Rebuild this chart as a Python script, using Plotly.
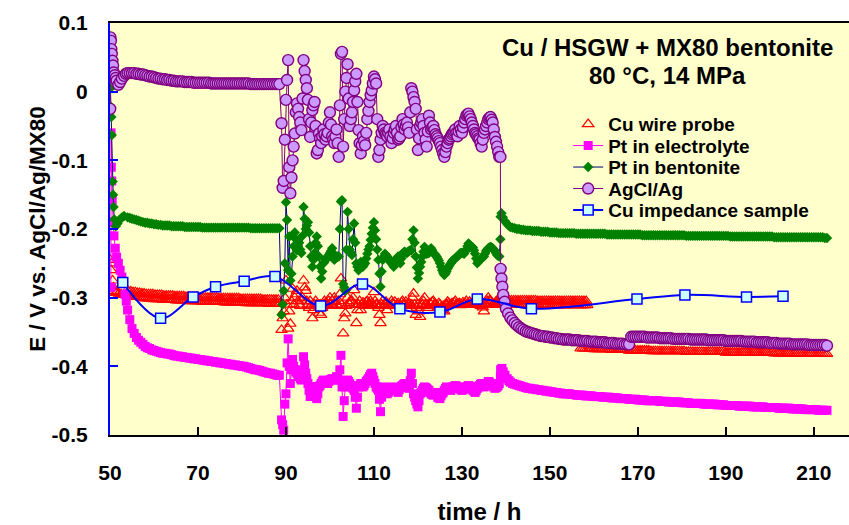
import plotly.graph_objects as go

FONT = "Liberation Sans, Arial, sans-serif"

# ---------------------------------------------------------------- time bases (h)
T_FLAT = [54.0, 54.5, 55.0, 55.5, 56.0, 56.5, 57.0, 57.5, 58.0, 58.5,
          59.0, 59.5, 60.0, 60.5, 61.0, 61.5, 62.0, 62.5, 63.0, 63.5,
          64.0, 64.5, 65.0, 65.5, 66.0, 66.5, 67.0, 67.5, 68.0, 68.5,
          69.0, 69.5, 70.0, 70.5, 71.0, 71.5, 72.0, 72.5, 73.0, 73.5,
          74.0, 74.5, 75.0, 75.5, 76.0, 76.5, 77.0, 77.5, 78.0, 78.5,
          79.0, 79.5, 80.0, 80.5, 81.0, 81.5, 82.0, 82.5, 83.0, 83.5,
          84.0, 84.5, 85.0, 85.5, 86.0, 86.5, 87.0, 87.5, 88.0, 88.5]
T_FLAT_B = [54.25, 54.75, 55.25, 55.75, 56.25, 56.75, 57.25, 57.75, 58.25, 58.75,
            59.25, 59.75, 60.25, 60.75, 61.25, 61.75, 62.25, 62.75, 63.25, 63.75,
            64.25, 64.75, 65.25, 65.75, 66.25, 66.75, 67.25, 67.75, 68.25, 68.75,
            69.25, 69.75, 70.25, 70.75, 71.25, 71.75, 72.25, 72.75, 73.25, 73.75,
            74.25, 74.75, 75.25, 75.75, 76.25, 76.75, 77.25, 77.75, 78.25, 78.75,
            79.25, 79.75, 80.25, 80.75, 81.25, 81.75, 82.25, 82.75, 83.25, 83.75,
            84.25, 84.75, 85.25, 85.75, 86.25, 86.75, 87.25, 87.75, 88.25]
T_NOISY = [89.0, 89.5, 90.0, 90.5, 91.0, 91.5, 92.0, 92.5, 93.0, 93.5,
           94.0, 94.5, 95.0, 95.5, 96.0, 96.5, 97.0, 97.5, 98.0, 98.5,
           99.0, 99.5, 100.0, 100.5, 101.0, 101.5, 102.0, 102.5, 103.0, 103.5,
           104.0, 104.5, 105.0, 105.5, 106.0, 106.5, 107.0, 107.5, 108.0, 108.5,
           109.0, 109.5, 110.0, 110.5, 111.0, 111.5, 112.0, 112.5, 113.0, 113.5,
           114.0, 114.5, 115.0, 115.5, 116.0, 116.5, 117.0, 117.5, 118.0, 118.5,
           119.0, 119.5, 120.0, 120.5, 121.0, 121.5, 122.0, 122.5, 123.0, 123.5,
           124.0, 124.5, 125.0, 125.5, 126.0, 126.5, 127.0, 127.5, 128.0, 128.5,
           129.0, 129.5, 130.0, 130.5, 131.0, 131.5, 132.0, 132.5, 133.0, 133.5,
           134.0, 134.5, 135.0, 135.5, 136.0, 136.5, 137.0, 137.5, 138.0, 138.5]
T_NOISY_B = [89.25, 89.75, 90.25, 90.75, 91.25, 91.75, 92.25, 92.75, 93.25, 93.75,
             94.25, 94.75, 95.25, 95.75, 96.25, 96.75, 97.25, 97.75, 98.25, 98.75,
             99.25, 99.75, 100.25, 100.75, 101.25, 101.75, 102.25, 102.75, 103.25, 103.75,
             104.25, 104.75, 105.25, 105.75, 106.25, 106.75, 107.25, 107.75, 108.25, 108.75,
             109.25, 109.75, 110.25, 110.75, 111.25, 111.75, 112.25, 112.75, 113.25, 113.75,
             114.25, 114.75, 115.25, 115.75, 116.25, 116.75, 117.25, 117.75, 118.25, 118.75,
             119.25, 119.75, 120.25, 120.75, 121.25, 121.75, 122.25, 122.75, 123.25, 123.75,
             124.25, 124.75, 125.25, 125.75, 126.25, 126.75, 127.25, 127.75, 128.25, 128.75,
             129.25, 129.75, 130.25, 130.75, 131.25, 131.75, 132.25, 132.75, 133.25, 133.75,
             134.25, 134.75, 135.25, 135.75, 136.25, 136.75, 137.25, 137.75, 138.25, 138.75]
T_LATE = [141.0, 141.5, 142.0, 142.5, 143.0, 143.5, 144.0, 144.5, 145.0, 145.5,
          146.0, 146.5, 147.0, 147.5, 148.0, 148.5, 149.0, 149.5, 150.0, 150.5,
          151.0, 151.5, 152.0, 152.5, 153.0, 153.5, 154.0, 154.5, 155.0, 155.5,
          156.0, 156.5, 157.0, 157.5, 158.0, 158.5, 159.0, 159.5, 160.0, 160.5,
          161.0, 161.5, 162.0, 162.5, 163.0, 163.5, 164.0, 164.5, 165.0, 165.5,
          166.0, 166.5, 167.0, 167.5, 168.0, 168.5, 169.0, 169.5, 170.0, 170.5,
          171.0, 171.5, 172.0, 172.5, 173.0, 173.5, 174.0, 174.5, 175.0, 175.5,
          176.0, 176.5, 177.0, 177.5, 178.0, 178.5, 179.0, 179.5, 180.0, 180.5,
          181.0, 181.5, 182.0, 182.5, 183.0, 183.5, 184.0, 184.5, 185.0, 185.5,
          186.0, 186.5, 187.0, 187.5, 188.0, 188.5, 189.0, 189.5, 190.0, 190.5,
          191.0, 191.5, 192.0, 192.5, 193.0, 193.5, 194.0, 194.5, 195.0, 195.5,
          196.0, 196.5, 197.0, 197.5, 198.0, 198.5, 199.0, 199.5, 200.0, 200.5,
          201.0, 201.5, 202.0, 202.5, 203.0, 203.5, 204.0, 204.5, 205.0, 205.5,
          206.0, 206.5, 207.0, 207.5, 208.0, 208.5, 209.0, 209.5, 210.0, 210.5,
          211.0, 211.5, 212.0, 212.5, 213.0]

# ---------------------------------------------------------------- Cu wire probe (V)
WIRE_HEAD_T = [50.1, 50.25, 50.4, 50.6, 50.8, 51.0, 51.3, 51.6, 52.0, 52.5, 53.0, 53.5]
WIRE_HEAD_V = [-0.245, -0.260, -0.250, -0.275, -0.285, -0.290, -0.293, -0.292,
               -0.294, -0.295, -0.296, -0.296]
WIRE_FLAT = [-0.297, -0.297, -0.298, -0.298, -0.299, -0.299, -0.300, -0.300, -0.301, -0.301,
             -0.301, -0.301, -0.302, -0.302, -0.302, -0.302, -0.303, -0.303, -0.303, -0.303,
             -0.303, -0.303, -0.304, -0.304, -0.304, -0.304, -0.304, -0.304, -0.305, -0.305,
             -0.305, -0.305, -0.305, -0.305, -0.306, -0.306, -0.306, -0.306, -0.306, -0.306,
             -0.306, -0.306, -0.306, -0.306, -0.307, -0.307, -0.307, -0.307, -0.307, -0.307,
             -0.307, -0.307, -0.307, -0.307, -0.308, -0.308, -0.308, -0.308, -0.308, -0.308,
             -0.308, -0.308, -0.308, -0.308, -0.309, -0.309, -0.309, -0.309, -0.309, -0.309]
WIRE_FLAT_B = [-0.291, -0.291, -0.292, -0.292, -0.293, -0.293, -0.294, -0.294, -0.295, -0.295,
               -0.295, -0.295, -0.296, -0.296, -0.296, -0.296, -0.297, -0.297, -0.297, -0.297,
               -0.297, -0.298, -0.298, -0.298, -0.298, -0.298, -0.299, -0.299, -0.299, -0.299,
               -0.299, -0.299, -0.300, -0.300, -0.300, -0.300, -0.300, -0.300, -0.300, -0.300,
               -0.300, -0.301, -0.301, -0.301, -0.301, -0.301, -0.301, -0.301, -0.301, -0.301,
               -0.301, -0.302, -0.302, -0.302, -0.302, -0.302, -0.302, -0.302, -0.302, -0.302,
               -0.302, -0.303, -0.303, -0.303, -0.303, -0.303, -0.303, -0.303, -0.303]
WIRE_NOISY = [-0.347, -0.320, -0.275, -0.345, -0.338, -0.287, -0.300, -0.290, -0.310, -0.305,
              -0.275, -0.290, -0.310, -0.305, -0.330, -0.310, -0.310, -0.322, -0.325, -0.310,
              -0.308, -0.310, -0.300, -0.305, -0.300, -0.310, -0.305, -0.272, -0.352, -0.323,
              -0.300, -0.310, -0.305, -0.289, -0.337, -0.310, -0.318, -0.307, -0.310, -0.305,
              -0.310, -0.308, -0.292, -0.310, -0.315, -0.337, -0.305, -0.310, -0.318, -0.310,
              -0.305, -0.310, -0.312, -0.308, -0.310, -0.305, -0.310, -0.312, -0.308, -0.310,
              -0.294, -0.325, -0.310, -0.328, -0.310, -0.300, -0.310, -0.315, -0.310, -0.305,
              -0.310, -0.315, -0.310, -0.318, -0.320, -0.310, -0.308, -0.310, -0.310, -0.305,
              -0.310, -0.308, -0.310, -0.310, -0.305, -0.310, -0.308, -0.310, -0.310, -0.305,
              -0.310, -0.310, -0.320, -0.310, -0.300, -0.305, -0.310, -0.310, -0.310, -0.300]
WIRE_NOISY_B = [-0.330, -0.300, -0.310, -0.320, -0.305, -0.310, -0.295, -0.305, -0.312, -0.300,
                -0.285, -0.305, -0.315, -0.312, -0.318, -0.305, -0.312, -0.310, -0.315, -0.305,
                -0.312, -0.305, -0.310, -0.312, -0.306, -0.312, -0.295, -0.310, -0.330, -0.312,
                -0.308, -0.305, -0.300, -0.310, -0.318, -0.305, -0.310, -0.312, -0.306, -0.310,
                -0.305, -0.312, -0.305, -0.310, -0.325, -0.310, -0.312, -0.306, -0.310, -0.312,
                -0.308, -0.306, -0.310, -0.312, -0.307, -0.310, -0.306, -0.310, -0.312, -0.300,
                -0.310, -0.315, -0.320, -0.312, -0.305, -0.310, -0.312, -0.308, -0.306, -0.310,
                -0.312, -0.308, -0.314, -0.312, -0.310, -0.306, -0.310, -0.308, -0.307, -0.310,
                -0.309, -0.311, -0.307, -0.308, -0.310, -0.306, -0.310, -0.308, -0.306, -0.310,
                -0.312, -0.314, -0.310, -0.305, -0.304, -0.308, -0.310, -0.306, -0.305, -0.304]
WIRE_MID_T = [139.0, 139.5, 140.0, 140.5, 141.0, 141.5, 142.0, 142.5, 143.0, 143.5,
              144.0, 144.5, 145.0, 145.5, 146.0, 146.5, 147.0, 147.5, 148.0, 148.5,
              149.0, 149.5, 150.0, 150.5, 151.0, 151.5, 152.0, 152.5, 153.0, 153.5,
              154.0, 154.5, 155.0, 155.5, 156.0, 156.5, 157.0, 157.5, 158.0, 158.5]
WIRE_MID_V = [-0.305, -0.308, -0.309, -0.309, -0.309, -0.309, -0.310, -0.310, -0.310, -0.310,
              -0.310, -0.310, -0.310, -0.310, -0.310, -0.310, -0.310, -0.310, -0.310, -0.310,
              -0.310, -0.310, -0.311, -0.311, -0.311, -0.311, -0.311, -0.311, -0.311, -0.311,
              -0.311, -0.311, -0.311, -0.311, -0.311, -0.311, -0.311, -0.311, -0.311, -0.311]
WIRE_MID_B_T = [139.25, 139.75, 140.25, 140.75, 141.25, 141.75, 142.25, 142.75, 143.25, 143.75,
                144.25, 144.75, 145.25, 145.75, 146.25, 146.75, 147.25, 147.75, 148.25, 148.75,
                149.25, 149.75, 150.25, 150.75, 151.25, 151.75, 152.25, 152.75, 153.25, 153.75,
                154.25, 154.75, 155.25, 155.75, 156.25, 156.75, 157.25, 157.75, 158.25]
WIRE_MID_B_V = [-0.302, -0.303, -0.303, -0.304, -0.304, -0.304, -0.304, -0.304, -0.304, -0.304,
                -0.304, -0.304, -0.304, -0.304, -0.304, -0.304, -0.305, -0.305, -0.305, -0.305,
                -0.305, -0.305, -0.305, -0.305, -0.305, -0.305, -0.305, -0.305, -0.305, -0.305,
                -0.305, -0.305, -0.305, -0.305, -0.305, -0.305, -0.305, -0.305, -0.305]
WIRE_LOW_T = T_LATE[32:]          # 157.0 h onwards
WIRE_LOW_V = [-0.374, -0.374, -0.374, -0.374, -0.374, -0.374, -0.375, -0.375, -0.375, -0.375,
              -0.375, -0.375, -0.375, -0.375, -0.376, -0.376, -0.376, -0.376, -0.376, -0.376,
              -0.376, -0.376, -0.377, -0.377, -0.377, -0.377, -0.377, -0.377, -0.377, -0.377,
              -0.377, -0.377, -0.378, -0.378, -0.378, -0.378, -0.378, -0.378, -0.378, -0.378,
              -0.378, -0.378, -0.378, -0.378, -0.378, -0.378, -0.378, -0.378, -0.379, -0.379,
              -0.379, -0.379, -0.379, -0.379, -0.379, -0.379, -0.379, -0.379, -0.379, -0.379,
              -0.379, -0.379, -0.379, -0.379, -0.379, -0.379, -0.380, -0.380, -0.380, -0.380,
              -0.380, -0.380, -0.380, -0.380, -0.380, -0.380, -0.380, -0.380, -0.380, -0.380,
              -0.380, -0.380, -0.380, -0.380, -0.380, -0.380, -0.380, -0.380, -0.381, -0.381,
              -0.381, -0.381, -0.381, -0.381, -0.381, -0.381, -0.381, -0.381, -0.382, -0.382,
              -0.382, -0.382, -0.382, -0.382, -0.382, -0.382, -0.382, -0.382, -0.382, -0.382,
              -0.382, -0.382, -0.382]

# ---------------------------------------------------------------- Pt in electrolyte (V)
ELEC_HEAD_T = [50.2, 50.25, 50.3, 50.4, 50.5, 50.7, 50.9, 51.2, 51.5, 51.9, 52.3,
               52.7, 53.0, 53.4, 53.7]
ELEC_HEAD_V = [-0.285, -0.060, -0.110, -0.130, -0.158, -0.190, -0.210, -0.228, -0.241,
               -0.250, -0.260, -0.270, -0.279, -0.295, -0.305]
ELEC_FLAT = [-0.318, -0.332, -0.345, -0.352, -0.358, -0.362, -0.365, -0.368, -0.371, -0.373,
             -0.374, -0.376, -0.377, -0.378, -0.379, -0.380, -0.381, -0.381, -0.382, -0.382,
             -0.383, -0.384, -0.385, -0.385, -0.386, -0.386, -0.387, -0.387, -0.388, -0.388,
             -0.389, -0.389, -0.390, -0.390, -0.391, -0.391, -0.392, -0.392, -0.393, -0.393,
             -0.394, -0.394, -0.395, -0.395, -0.396, -0.396, -0.397, -0.397, -0.398, -0.398,
             -0.399, -0.399, -0.400, -0.400, -0.401, -0.402, -0.403, -0.404, -0.405, -0.405,
             -0.406, -0.407, -0.408, -0.409, -0.410, -0.410, -0.411, -0.412, -0.413, -0.413]
ELEC_NOISY = [-0.478, -0.493, -0.440, -0.360, -0.425, -0.390, -0.405, -0.410, -0.415, -0.420,
              -0.386, -0.410, -0.425, -0.444, -0.430, -0.430, -0.447, -0.430, -0.425, -0.420,
              -0.422, -0.425, -0.420, -0.418, -0.420, -0.415, -0.420, -0.384, -0.473, -0.430,
              -0.420, -0.425, -0.430, -0.435, -0.461, -0.430, -0.425, -0.430, -0.425, -0.420,
              -0.415, -0.410, -0.420, -0.430, -0.435, -0.466, -0.430, -0.432, -0.440, -0.435,
              -0.430, -0.432, -0.435, -0.438, -0.430, -0.428, -0.425, -0.430, -0.432, -0.410,
              -0.440, -0.450, -0.459, -0.440, -0.435, -0.430, -0.432, -0.435, -0.440, -0.442,
              -0.438, -0.445, -0.447, -0.440, -0.435, -0.430, -0.432, -0.435, -0.430, -0.428,
              -0.430, -0.432, -0.435, -0.433, -0.430, -0.428, -0.430, -0.435, -0.438, -0.432,
              -0.428, -0.425, -0.430, -0.428, -0.422, -0.425, -0.428, -0.432, -0.430, -0.425]
ELEC_NOISY_B = [-0.485, -0.455, -0.395, -0.400, -0.405, -0.400, -0.408, -0.412, -0.418, -0.405,
                -0.398, -0.418, -0.435, -0.438, -0.430, -0.438, -0.440, -0.428, -0.422, -0.421,
                -0.424, -0.422, -0.419, -0.419, -0.418, -0.418, -0.405, -0.430, -0.450, -0.425,
                -0.422, -0.428, -0.432, -0.445, -0.445, -0.428, -0.428, -0.428, -0.422, -0.418,
                -0.412, -0.415, -0.425, -0.432, -0.448, -0.445, -0.431, -0.436, -0.438, -0.432,
                -0.431, -0.434, -0.436, -0.434, -0.429, -0.426, -0.428, -0.431, -0.421, -0.425,
                -0.445, -0.455, -0.450, -0.438, -0.432, -0.431, -0.434, -0.438, -0.441, -0.440,
                -0.441, -0.446, -0.443, -0.438, -0.432, -0.431, -0.434, -0.432, -0.429, -0.429,
                -0.431, -0.434, -0.434, -0.431, -0.429, -0.429, -0.432, -0.436, -0.435, -0.430,
                -0.426, -0.428, -0.429, -0.425, -0.423, -0.427, -0.430, -0.431, -0.428, -0.415]
ELEC_STEP_T = [138.8, 139.1, 139.4, 139.8, 140.3, 140.7]
ELEC_STEP_V = [-0.405, -0.403, -0.408, -0.413, -0.418, -0.421]
ELEC_LATE = [-0.423, -0.425, -0.426, -0.427, -0.428, -0.429, -0.430, -0.431, -0.432, -0.432,
             -0.433, -0.433, -0.434, -0.434, -0.435, -0.435, -0.436, -0.436, -0.437, -0.437,
             -0.438, -0.438, -0.439, -0.439, -0.440, -0.440, -0.440, -0.440, -0.441, -0.441,
             -0.442, -0.442, -0.442, -0.442, -0.443, -0.443, -0.443, -0.443, -0.444, -0.444,
             -0.444, -0.444, -0.445, -0.445, -0.445, -0.445, -0.446, -0.446, -0.446, -0.446,
             -0.447, -0.447, -0.447, -0.447, -0.448, -0.448, -0.448, -0.448, -0.449, -0.449,
             -0.449, -0.449, -0.450, -0.450, -0.450, -0.450, -0.450, -0.450, -0.451, -0.451,
             -0.451, -0.451, -0.452, -0.452, -0.452, -0.452, -0.452, -0.452, -0.453, -0.453,
             -0.453, -0.453, -0.454, -0.454, -0.454, -0.454, -0.454, -0.454, -0.455, -0.455,
             -0.455, -0.455, -0.455, -0.455, -0.456, -0.456, -0.456, -0.456, -0.457, -0.457,
             -0.457, -0.457, -0.457, -0.457, -0.458, -0.458, -0.458, -0.458, -0.458, -0.458,
             -0.459, -0.459, -0.459, -0.459, -0.459, -0.459, -0.460, -0.460, -0.460, -0.460,
             -0.460, -0.460, -0.461, -0.461, -0.461, -0.461, -0.461, -0.461, -0.462, -0.462,
             -0.462, -0.462, -0.462, -0.462, -0.463, -0.463, -0.463, -0.463, -0.463, -0.463,
             -0.464, -0.464, -0.464, -0.464, -0.464]

# ---------------------------------------------------------------- Pt in bentonite (V)
BENT_HEAD_T = [50.1, 50.2, 50.3, 50.4, 50.6, 50.7, 50.8, 51.0, 51.3, 51.7, 52.2, 52.7, 53.2]
BENT_HEAD_V = [0.005, -0.022, -0.037, -0.063, -0.131, -0.150, -0.168, -0.186, -0.196,
               -0.192, -0.187, -0.183, -0.181]
BENT_FLAT = [-0.183, -0.184, -0.185, -0.186, -0.187, -0.188, -0.189, -0.190, -0.191, -0.191,
             -0.192, -0.192, -0.193, -0.193, -0.194, -0.194, -0.195, -0.195, -0.195, -0.195,
             -0.196, -0.196, -0.196, -0.196, -0.196, -0.196, -0.197, -0.197, -0.197, -0.197,
             -0.197, -0.197, -0.197, -0.197, -0.198, -0.198, -0.198, -0.198, -0.198, -0.198,
             -0.198, -0.198, -0.198, -0.198, -0.198, -0.198, -0.198, -0.198, -0.198, -0.198,
             -0.198, -0.198, -0.198, -0.198, -0.198, -0.198, -0.199, -0.199, -0.199, -0.199,
             -0.199, -0.199, -0.199, -0.199, -0.199, -0.199, -0.199, -0.199, -0.199, -0.199]
BENT_NOISY = [-0.325, -0.290, -0.161, -0.260, -0.275, -0.240, -0.205, -0.231, -0.220, -0.235,
              -0.168, -0.200, -0.190, -0.225, -0.255, -0.235, -0.211, -0.240, -0.272, -0.250,
              -0.245, -0.240, -0.235, -0.228, -0.245, -0.240, -0.240, -0.160, -0.280, -0.290,
              -0.175, -0.230, -0.238, -0.192, -0.250, -0.260, -0.248, -0.255, -0.250, -0.236,
              -0.225, -0.207, -0.190, -0.215, -0.245, -0.284, -0.245, -0.236, -0.240, -0.245,
              -0.250, -0.255, -0.245, -0.240, -0.250, -0.236, -0.233, -0.235, -0.232, -0.231,
              -0.202, -0.240, -0.272, -0.255, -0.240, -0.226, -0.236, -0.235, -0.228, -0.235,
              -0.238, -0.243, -0.250, -0.260, -0.267, -0.262, -0.255, -0.250, -0.245, -0.243,
              -0.240, -0.236, -0.235, -0.236, -0.230, -0.221, -0.225, -0.227, -0.236, -0.250,
              -0.245, -0.243, -0.240, -0.232, -0.228, -0.226, -0.228, -0.232, -0.238, -0.240]
BENT_NOISY_B = [-0.310, -0.250, -0.187, -0.211, -0.265, -0.225, -0.215, -0.225, -0.230, -0.210,
                -0.185, -0.195, -0.205, -0.240, -0.245, -0.220, -0.225, -0.255, -0.262, -0.248,
                -0.242, -0.238, -0.232, -0.236, -0.242, -0.240, -0.200, -0.158, -0.285, -0.230,
                -0.200, -0.234, -0.215, -0.220, -0.255, -0.254, -0.252, -0.252, -0.243, -0.230,
                -0.216, -0.198, -0.202, -0.230, -0.265, -0.262, -0.240, -0.238, -0.242, -0.248,
                -0.252, -0.250, -0.242, -0.245, -0.243, -0.234, -0.234, -0.233, -0.231, -0.215,
                -0.220, -0.256, -0.264, -0.248, -0.233, -0.231, -0.235, -0.231, -0.231, -0.236,
                -0.240, -0.246, -0.255, -0.264, -0.265, -0.258, -0.252, -0.247, -0.244, -0.241,
                -0.238, -0.235, -0.235, -0.233, -0.225, -0.223, -0.226, -0.231, -0.243, -0.247,
                -0.244, -0.241, -0.236, -0.230, -0.227, -0.227, -0.230, -0.235, -0.239, -0.215]
BENT_STEP_T = [138.8, 139.0, 139.3, 139.7, 140.2, 140.6]
BENT_STEP_V = [-0.182, -0.177, -0.183, -0.188, -0.192, -0.195]
BENT_LATE = [-0.197, -0.198, -0.199, -0.200, -0.200, -0.201, -0.201, -0.202, -0.202, -0.202,
             -0.203, -0.203, -0.203, -0.203, -0.204, -0.204, -0.204, -0.204, -0.205, -0.205,
             -0.205, -0.205, -0.206, -0.206, -0.206, -0.206, -0.206, -0.206, -0.206, -0.206,
             -0.207, -0.207, -0.207, -0.207, -0.207, -0.207, -0.207, -0.207, -0.207, -0.207,
             -0.207, -0.207, -0.207, -0.207, -0.208, -0.208, -0.208, -0.208, -0.208, -0.208,
             -0.208, -0.208, -0.208, -0.208, -0.208, -0.208, -0.208, -0.208, -0.208, -0.208,
             -0.209, -0.209, -0.209, -0.209, -0.209, -0.209, -0.209, -0.209, -0.209, -0.209,
             -0.209, -0.209, -0.209, -0.209, -0.209, -0.209, -0.209, -0.209, -0.209, -0.209,
             -0.210, -0.210, -0.210, -0.210, -0.210, -0.210, -0.210, -0.210, -0.210, -0.210,
             -0.210, -0.210, -0.210, -0.210, -0.210, -0.210, -0.210, -0.210, -0.210, -0.210,
             -0.211, -0.211, -0.211, -0.211, -0.211, -0.211, -0.211, -0.211, -0.211, -0.211,
             -0.211, -0.211, -0.211, -0.211, -0.211, -0.211, -0.211, -0.211, -0.211, -0.211,
             -0.212, -0.212, -0.212, -0.212, -0.212, -0.212, -0.212, -0.212, -0.212, -0.212,
             -0.212, -0.212, -0.212, -0.212, -0.212, -0.212, -0.212, -0.212, -0.212, -0.212,
             -0.212, -0.212, -0.212, -0.213, -0.213]

# ---------------------------------------------------------------- AgCl/Ag (V)
AGCL_HEAD_T = [50.05, 50.1, 50.2, 50.3, 50.4, 50.55, 50.7, 50.85, 51.1, 51.3, 51.5,
               51.9, 52.3, 52.7, 53.2, 53.6]
AGCL_HEAD_V = [-0.025, 0.079, 0.074, 0.062, 0.055, 0.045, 0.038, 0.028, 0.024, 0.020,
               0.016, 0.010, 0.014, 0.019, 0.023, 0.026]
AGCL_FLAT = [0.027, 0.027, 0.027, 0.027, 0.026, 0.026, 0.025, 0.025, 0.024, 0.023,
             0.022, 0.022, 0.021, 0.020, 0.019, 0.019, 0.018, 0.018, 0.017, 0.017,
             0.016, 0.016, 0.015, 0.015, 0.015, 0.015, 0.014, 0.014, 0.014, 0.014,
             0.013, 0.013, 0.013, 0.013, 0.013, 0.013, 0.013, 0.013, 0.012, 0.012,
             0.012, 0.012, 0.012, 0.012, 0.012, 0.012, 0.012, 0.012, 0.012, 0.012,
             0.012, 0.012, 0.012, 0.012, 0.012, 0.012, 0.011, 0.011, 0.011, 0.011,
             0.011, 0.011, 0.011, 0.011, 0.011, 0.011, 0.011, 0.011, 0.011, 0.011]
AGCL_NOISY = [-0.046, -0.130, -0.012, 0.046, -0.148, -0.100, -0.061, -0.017, -0.037, -0.056,
              0.046, 0.017, -0.012, -0.066, -0.027, -0.015, -0.090, -0.061, -0.075, -0.055,
              -0.070, -0.060, -0.030, -0.065, -0.075, -0.055, -0.095, 0.055, -0.080, 0.000,
              0.040, -0.050, -0.030, 0.002, 0.026, -0.056, -0.090, -0.065, -0.078, -0.040,
              -0.015, 0.002, 0.022, 0.012, -0.095, -0.070, -0.050, -0.060, -0.065, -0.055,
              -0.075, -0.060, -0.050, -0.070, -0.065, -0.040, -0.055, -0.045, -0.060, 0.005,
              -0.008, -0.025, -0.085, -0.050, -0.040, -0.060, -0.080, -0.035, -0.055, -0.050,
              -0.062, -0.068, -0.075, -0.085, -0.095, -0.080, -0.070, -0.065, -0.060, -0.055,
              -0.065, -0.050, -0.060, -0.045, -0.035, -0.032, -0.040, -0.050, -0.060, -0.065,
              -0.070, -0.080, -0.060, -0.050, -0.040, -0.037, -0.045, -0.066, -0.080, -0.095]
AGCL_NOISY_B = [-0.140, -0.070, 0.017, -0.110, -0.125, -0.080, -0.030, -0.025, -0.045, -0.010,
                0.030, 0.005, -0.040, -0.045, -0.020, -0.050, -0.085, -0.068, -0.065, -0.062,
                -0.065, -0.045, -0.048, -0.070, -0.065, -0.075, -0.020, 0.058, -0.040, 0.020,
                -0.010, -0.040, -0.015, 0.015, -0.015, -0.075, -0.078, -0.072, -0.060, -0.028,
                -0.005, 0.012, 0.018, -0.040, -0.085, -0.060, -0.055, -0.062, -0.060, -0.065,
                -0.068, -0.055, -0.060, -0.068, -0.052, -0.048, -0.050, -0.052, -0.030, 0.000,
                -0.015, -0.055, -0.068, -0.045, -0.050, -0.070, -0.058, -0.045, -0.052, -0.056,
                -0.065, -0.072, -0.080, -0.090, -0.088, -0.075, -0.068, -0.062, -0.058, -0.060,
                -0.058, -0.055, -0.052, -0.040, -0.033, -0.036, -0.045, -0.055, -0.062, -0.068,
                -0.075, -0.070, -0.055, -0.045, -0.038, -0.041, -0.055, -0.073, -0.088, -0.095]
AGCL_STEP_T = [138.8, 139.0, 139.2, 139.4, 139.7, 140.0, 140.5]
AGCL_STEP_V = [-0.258, -0.272, -0.284, -0.296, -0.306, -0.316, -0.323]
AGCL_LATE = [-0.329, -0.333, -0.337, -0.340, -0.343, -0.345, -0.347, -0.349, -0.350, -0.351,
             -0.352, -0.353, -0.354, -0.355, -0.356, -0.356, -0.357, -0.357, -0.358, -0.358,
             -0.359, -0.359, -0.360, -0.360, -0.361, -0.361, -0.361, -0.361, -0.362, -0.362,
             -0.362, -0.362, -0.363, -0.363, -0.363, -0.363, -0.364, -0.364, -0.364, -0.364,
             -0.365, -0.365, -0.365, -0.365, -0.366, -0.366, -0.366, -0.366, -0.367, -0.367,
             -0.367, -0.367, -0.368, -0.368, -0.368, -0.357, -0.357, -0.357, -0.357, -0.357,
             -0.357, -0.357, -0.358, -0.358, -0.358, -0.358, -0.358, -0.358, -0.359, -0.359,
             -0.359, -0.359, -0.359, -0.359, -0.360, -0.360, -0.360, -0.360, -0.360, -0.360,
             -0.360, -0.360, -0.361, -0.361, -0.361, -0.361, -0.361, -0.361, -0.361, -0.361,
             -0.362, -0.362, -0.362, -0.362, -0.362, -0.362, -0.362, -0.362, -0.363, -0.363,
             -0.363, -0.363, -0.363, -0.363, -0.363, -0.363, -0.364, -0.364, -0.364, -0.364,
             -0.364, -0.364, -0.365, -0.365, -0.365, -0.365, -0.365, -0.365, -0.366, -0.366,
             -0.366, -0.366, -0.367, -0.367, -0.367, -0.367, -0.367, -0.367, -0.368, -0.368,
             -0.368, -0.368, -0.368, -0.368, -0.368, -0.368, -0.369, -0.369, -0.369, -0.369,
             -0.369, -0.369, -0.369, -0.369, -0.370]

# ---------------------------------------------------------------- Cu impedance sample (V)
IMP_T = [52.9, 61.5, 68.9, 74.0, 80.5, 87.5, 97.9, 107.4, 115.9, 125.0, 133.5,
         145.8, 169.8, 180.7, 194.7, 203.0]
IMP_V = [-0.278, -0.330, -0.299, -0.284, -0.276, -0.269, -0.312, -0.280, -0.316, -0.321,
         -0.302, -0.316, -0.302, -0.296, -0.299, -0.298]

# ---------------------------------------------------------------- axis ticks
X_TICKS = [50, 70, 90, 110, 130, 150, 170, 190, 210]
Y_TICKS = [-0.5, -0.4, -0.3, -0.2, -0.1, 0.0, 0.1]
Y_TICK_TEXT = ["-0.5", "-0.4", "-0.3", "-0.2", "-0.1", "0", "0.1"]


def join_segments(*segments):
    """Merge (times, values) segments into one time-ordered series."""
    pairs = []
    for t, v in segments:
        assert len(t) == len(v), (len(t), len(v))
        pairs.extend(zip(t, v))
    pairs.sort(key=lambda p: p[0])
    return [p[0] for p in pairs], [p[1] for p in pairs]


wire_t, wire_v = join_segments((WIRE_HEAD_T, WIRE_HEAD_V), (T_FLAT, WIRE_FLAT),
                               (T_FLAT_B, WIRE_FLAT_B),
                               (T_NOISY, WIRE_NOISY), (T_NOISY_B, WIRE_NOISY_B),
                               (WIRE_MID_T, WIRE_MID_V), (WIRE_MID_B_T, WIRE_MID_B_V),
                               (WIRE_LOW_T, WIRE_LOW_V))
elec_t, elec_v = join_segments((ELEC_HEAD_T, ELEC_HEAD_V), (T_FLAT, ELEC_FLAT),
                               (T_NOISY, ELEC_NOISY), (T_NOISY_B, ELEC_NOISY_B),
                               (ELEC_STEP_T, ELEC_STEP_V), (T_LATE, ELEC_LATE))
bent_t, bent_v = join_segments((BENT_HEAD_T, BENT_HEAD_V), (T_FLAT, BENT_FLAT),
                               (T_NOISY, BENT_NOISY), (T_NOISY_B, BENT_NOISY_B),
                               (BENT_STEP_T, BENT_STEP_V), (T_LATE, BENT_LATE))
agcl_t, agcl_v = join_segments((AGCL_HEAD_T, AGCL_HEAD_V), (T_FLAT, AGCL_FLAT),
                               (T_NOISY, AGCL_NOISY), (T_NOISY_B, AGCL_NOISY_B),
                               (AGCL_STEP_T, AGCL_STEP_V), (T_LATE, AGCL_LATE))

fig = go.Figure()

fig.add_trace(go.Scatter(
    x=wire_t, y=wire_v, mode="markers", name="Cu wire probe", legend="legend",
    marker=dict(symbol="triangle-up-open", size=10, color="#FF0000",
                line=dict(width=1.2, color="#FF0000")),
))
fig.add_trace(go.Scatter(
    x=elec_t, y=elec_v, mode="lines+markers", name="Pt in electrolyte", legend="legend2",
    line=dict(color="#FF00FF", width=1),
    marker=dict(symbol="square", size=9, color="#FF00FF", line=dict(width=0)),
))
fig.add_trace(go.Scatter(
    x=bent_t, y=bent_v, mode="lines+markers", name="Pt in bentonite", legend="legend3",
    line=dict(color="#000080", width=1),
    marker=dict(symbol="diamond", size=8, color="#008000", line=dict(width=0)),
))
fig.add_trace(go.Scatter(
    x=agcl_t, y=agcl_v, mode="lines+markers", name="AgCl/Ag", legend="legend4",
    line=dict(color="#800080", width=1),
    marker=dict(symbol="circle", size=11, color="#CC99FF",
                line=dict(width=1.4, color="#800080")),
))
fig.add_trace(go.Scatter(
    x=IMP_T, y=IMP_V, mode="lines+markers", name="Cu impedance sample", legend="legend5",
    line=dict(color="#0000FF", width=2, shape="spline", smoothing=1),
    marker=dict(symbol="square", size=10, color="#CCFFFF",
                line=dict(width=1.5, color="#0000FF")),
))

# one single-entry legend per series, stacked down the right side of the plot
PLOT_TOP, PLOT_H = 22.7, 412.3
row_px = [124, 145.5, 167, 188.5, 210]
legend_style = dict(
    x=0.62, xanchor="left", yanchor="middle", bgcolor="rgba(0,0,0,0)",
    borderwidth=0,
    font=dict(family=FONT, size=19, color="black", weight="bold"),
)
legend_layout = {}
for i, py in enumerate(row_px):
    key = "legend" if i == 0 else f"legend{i + 1}"
    legend_layout[key] = dict(legend_style, y=1 - (py - PLOT_TOP) / PLOT_H)

fig.update_layout(
    width=849, height=525,
    margin=dict(l=110, r=0, t=23, b=90),
    paper_bgcolor="white",
    plot_bgcolor="#FFFFCC",
    showlegend=True,
    font=dict(family=FONT, color="black"),
    **legend_layout,
)

fig.update_xaxes(
    range=[50, 218], tickvals=X_TICKS, ticktext=[str(v) for v in X_TICKS],
    showgrid=False, zeroline=False,
    showline=True, linecolor="black", linewidth=2, mirror=True,
    ticks="inside", ticklen=8, tickwidth=2, tickcolor="black",
    tickfont=dict(family=FONT, size=21, color="black", weight="bold"),
    ticklabelstandoff=18,
    title=dict(text="time / h", standoff=20,
               font=dict(family=FONT, size=24, color="black", weight="bold")),
)
fig.update_yaxes(
    range=[-0.5, 0.1], tickvals=Y_TICKS, ticktext=Y_TICK_TEXT,
    showgrid=False, zeroline=False,
    showline=True, linecolor="#0000FF", linewidth=2,
    ticks="inside", ticklen=8, tickwidth=2, tickcolor="#0000FF",
    tickfont=dict(family=FONT, size=21, color="black", weight="bold"),
    ticklabelstandoff=16,
    title=dict(text="E / V vs. AgCl/Ag/MX80", standoff=0,
               font=dict(family=FONT, size=22.5, color="black", weight="bold")),
)

fig.add_annotation(
    text="Cu / HSGW + MX80 bentonite", xref="paper", yref="paper",
    x=(667 - 110) / 739, y=1 - (47 - PLOT_TOP) / PLOT_H,
    xanchor="center", yanchor="middle", showarrow=False,
    font=dict(family=FONT, size=24, color="black", weight="bold"),
)
fig.add_annotation(
    text="80 °C, 14 MPa", xref="paper", yref="paper",
    x=(667 - 110) / 739, y=1 - (75 - PLOT_TOP) / PLOT_H,
    xanchor="center", yanchor="middle", showarrow=False,
    font=dict(family=FONT, size=24, color="black", weight="bold"),
)

fig.write_html("out.html")
